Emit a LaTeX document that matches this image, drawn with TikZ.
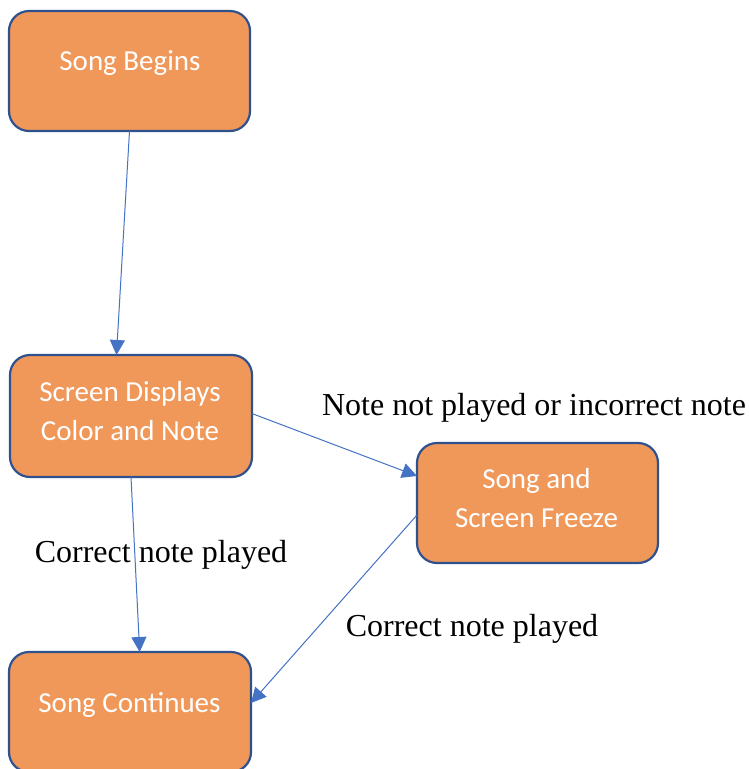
\documentclass[tikz,border=0pt]{standalone}
\usepackage{fontspec}
\setmainfont{Liberation Serif}
\newfontfamily\boxfont{Carlito}
\usetikzlibrary{arrows.meta,calc}
\definecolor{boxfill}{HTML}{F0985A}
\definecolor{boxedge}{HTML}{2F528F}
\definecolor{arrowblue}{HTML}{4472C4}
\begin{document}
\begin{tikzpicture}[x=1pt,y=-1pt,
  box/.style={draw=boxedge,line width=2.2pt,fill=boxfill,rounded corners=20pt,
    minimum width=241pt,minimum height=120pt,inner sep=0pt,outer sep=0pt},
  boxtext/.style={text=white,font=\boxfont\fontsize{29}{38.5}\selectfont,align=center,inner sep=0pt,anchor=base},
  lbl/.style={text=black,font=\fontsize{32}{38}\selectfont,inner sep=0pt,anchor=base},
  conn/.style={draw=arrowblue,line width=1pt,-{Triangle[length=15pt,width=15pt]}}]
\useasboundingbox (0,0) rectangle (749,769);
\clip (0,0) rectangle (749,769);
\fill[white] (0,0) rectangle (749,769);
% boxes
\node[box] (b1) at (129.5,71) {};
\node[box,minimum width=242pt,minimum height=122pt] (b2) at (131,416) {};
\node[box] (b3) at (537.5,503) {};
\node[box,minimum width=242pt] (b4) at (130,712) {};
% box texts (base anchor = baseline of the last line)
\node[boxtext] (t1) at (130,70) {Song Begins};
\node[boxtext] (t2) at (130,440) {Screen Displays\\Color and Note};
\node[boxtext] (t3) at (536.5,527) {Song and\\Screen Freeze};
\node[boxtext] (t4) at (129.5,712) {Song Continues};
% connectors
\draw[conn] (b1.south) -- ($(b2.north west)!0.44!(b2.north east)$);
\draw[conn] ($(b2.north east)!0.48!(b2.south east)$) -- ($(b3.north west)!0.275!(b3.south west)$);
\draw[conn] (b2.south) -- ($(b4.north west)!0.54!(b4.north east)$);
\draw[conn] ($(b3.north west)!0.6!(b3.south west)$) -- ($(b4.north east)!0.425!(b4.south east)$);
% labels
\node[lbl] (l1) at (534,415) {Note not played or incorrect note};
\node[lbl] (l2) at (161,562) {Correct note played};
\node[lbl] (l3) at (472,636) {Correct note played};
\end{tikzpicture}
\end{document}
